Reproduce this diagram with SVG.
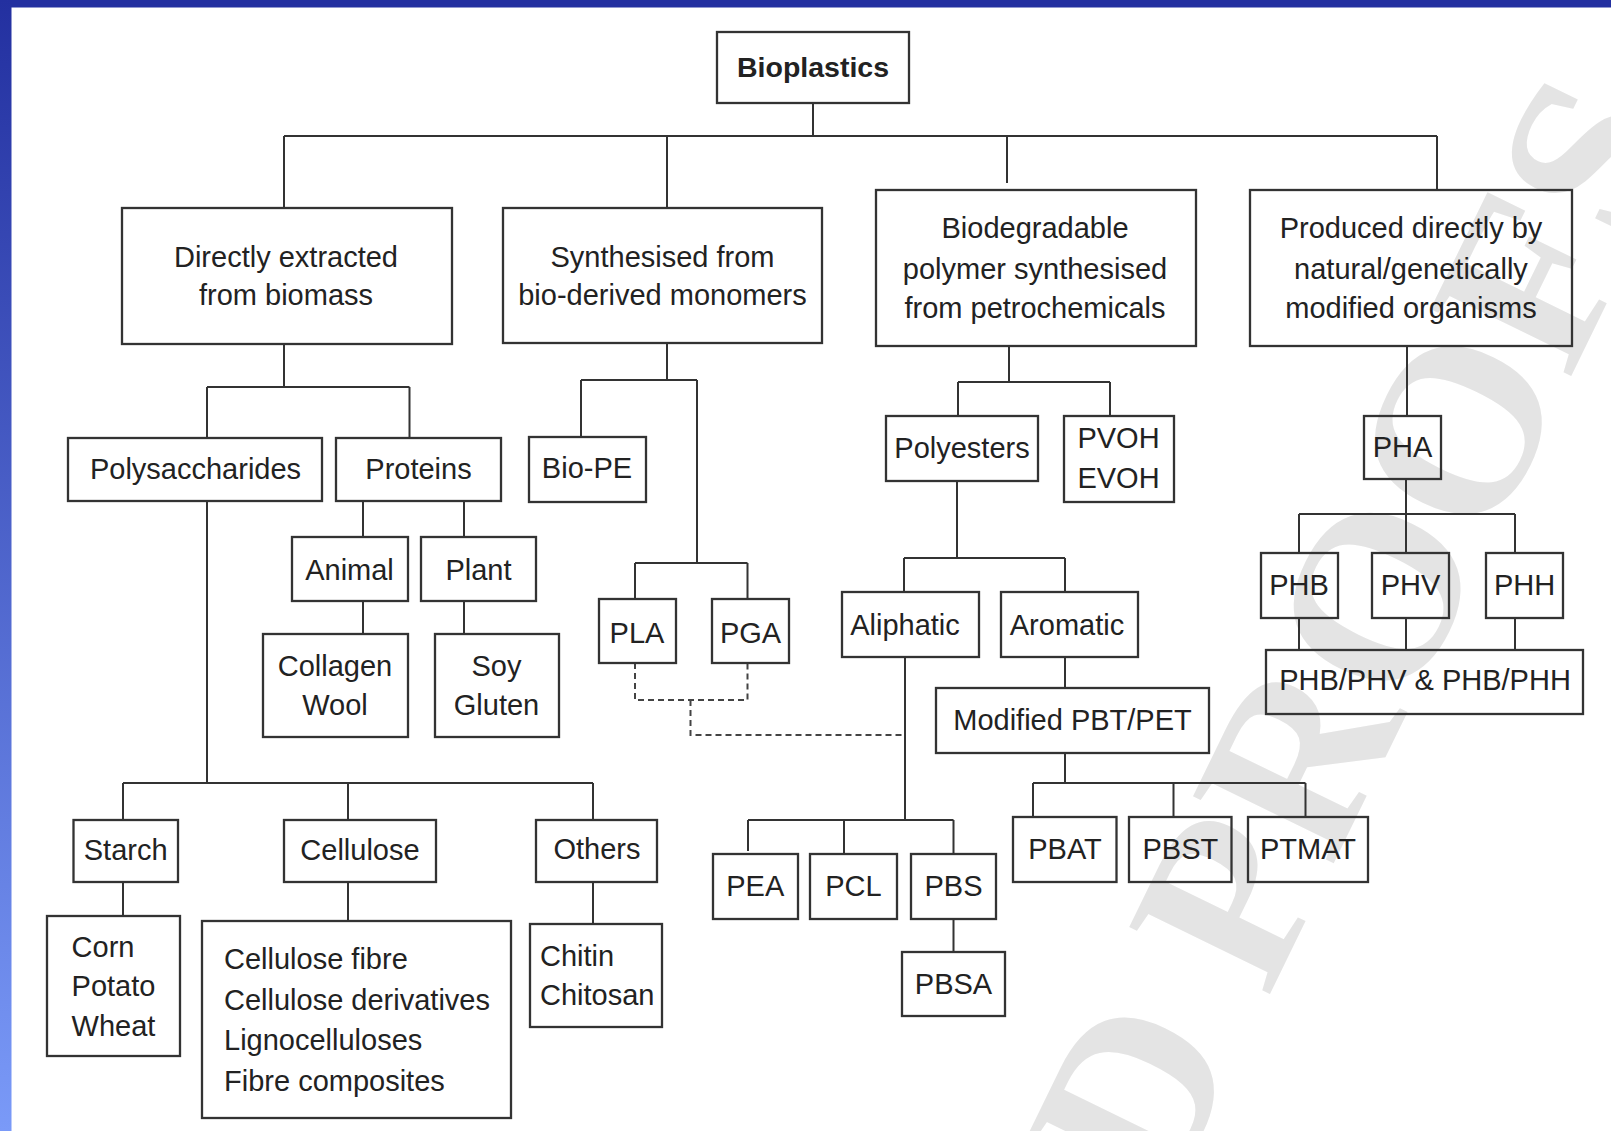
<svg xmlns="http://www.w3.org/2000/svg" width="1611" height="1131" viewBox="0 0 1611 1131">
<style>
.box{fill:none;stroke:#333;stroke-width:2.3}
.ln{fill:none;stroke:#333;stroke-width:2}
.dash{fill:none;stroke:#444;stroke-width:2;stroke-dasharray:6 4}
.t{font-family:"Liberation Sans",Arial,sans-serif;font-size:29px;fill:#222;text-anchor:middle}
.l{text-anchor:start}
.b{font-weight:bold}
.wm{font-family:"Liberation Serif","Times New Roman",serif;font-size:238px;font-weight:bold;fill:#e4e4e4}
</style>
<defs>
<linearGradient id="side" x1="0" y1="0" x2="0" y2="1">
<stop offset="0" stop-color="#2330a0"/>
<stop offset="1" stop-color="#7a9af8"/>
</linearGradient>
</defs>
<rect width="1611" height="1131" fill="#fff"/>
<text class="wm" transform="translate(1166,1207) rotate(-64)">D PROOFS</text>
<rect x="0" y="0" width="1611" height="7.5" fill="#2330a0"/>
<rect x="0" y="0" width="11.5" height="1131" fill="url(#side)"/>

<g id="connectors">
<path class="ln" d="M813,103V136M284,136H1437M284,136V208M667,136V208M1007,136V183M1437,136V190"/>
<path class="ln" d="M284,344V387M207,387H409.5M207,387V438M409.5,387V438"/>
<path class="ln" d="M667,343V380M581,380H697M581,380V437M697,380V563M635,563H747.5M635,563V599M747.5,563V599"/>
<path class="dash" d="M635,663V700H747.5V663M690.5,700V735H904"/>
<path class="ln" d="M1009,346V382M958,382H1110M958,382V416M1110,382V416"/>
<path class="ln" d="M957,481V558M904,558H1065M904,558V592M1065,558V592"/>
<path class="ln" d="M905,657V820M748,820H953.5M748,820V851M844,820V854M953.5,820V854M953.5,919V952"/>
<path class="ln" d="M1065,657V688M1065,753V783M1033,783H1305.5M1033,783V817M1173.5,783V817M1305.5,783V817"/>
<path class="ln" d="M1407,346V416M1406,479V553M1299,514H1515M1299,514V553M1515,514V553M1299,618V650M1406,618V650M1515,618V650"/>
<path class="ln" d="M207,501V783M123,783H593M123,783V820M348,783V820M593,783V820"/>
<path class="ln" d="M363,501V537M464,501V537M363,601V634M464,601V634"/>
<path class="ln" d="M123,882V916M348,882V921M593,882V924"/>
</g>

<g id="bioplastics"><rect class="box" x="717" y="32" width="192" height="71"/><text class="t b" x="813" y="77" style="font-size:28.5px">Bioplastics</text></g>
<g id="directly"><rect class="box" x="122" y="208" width="330" height="136"/><text class="t" x="286" y="267">Directly extracted</text><text class="t" x="286" y="305">from biomass</text></g>
<g id="synthesised"><rect class="box" x="503" y="208" width="319" height="135"/><text class="t" x="662.5" y="267">Synthesised from</text><text class="t" x="662.5" y="305">bio-derived monomers</text></g>
<g id="biodegradable"><rect class="box" x="876" y="190" width="320" height="156"/><text class="t" x="1035" y="238">Biodegradable</text><text class="t" x="1035" y="279">polymer synthesised</text><text class="t" x="1035" y="318">from petrochemicals</text></g>
<g id="produced"><rect class="box" x="1250" y="190" width="322" height="156"/><text class="t" x="1411" y="238">Produced directly by</text><text class="t" x="1411" y="279">natural/genetically</text><text class="t" x="1411" y="318">modified organisms</text></g>

<g id="polysaccharides"><rect class="box" x="68" y="438" width="254" height="63"/><text class="t" x="195.5" y="479">Polysaccharides</text></g>
<g id="proteins"><rect class="box" x="336" y="438" width="165" height="63"/><text class="t" x="418.5" y="479">Proteins</text></g>
<g id="bio-pe"><rect class="box" x="529" y="437" width="117" height="65"/><text class="t" x="587" y="478">Bio-PE</text></g>
<g id="polyesters"><rect class="box" x="886" y="416" width="152" height="65"/><text class="t" x="962" y="458">Polyesters</text></g>
<g id="pvoh"><rect class="box" x="1064" y="416" width="110" height="86"/><text class="t" x="1118.5" y="448">PVOH</text><text class="t" x="1118.5" y="488">EVOH</text></g>
<g id="pha"><rect class="box" x="1364" y="416" width="77" height="63"/><text class="t" x="1402.5" y="457">PHA</text></g>

<g id="animal"><rect class="box" x="292" y="537" width="116" height="64"/><text class="t" x="349.5" y="580">Animal</text></g>
<g id="plant"><rect class="box" x="421" y="537" width="115" height="64"/><text class="t" x="478.5" y="580">Plant</text></g>
<g id="pla"><rect class="box" x="599" y="599" width="77" height="64"/><text class="t" x="637" y="643">PLA</text></g>
<g id="pga"><rect class="box" x="712" y="599" width="77" height="64"/><text class="t" x="750.5" y="643">PGA</text></g>
<g id="aliphatic"><rect class="box" x="842" y="592" width="137" height="65"/><text class="t" x="905" y="635">Aliphatic</text></g>
<g id="aromatic"><rect class="box" x="1001" y="592" width="137" height="65"/><text class="t" x="1067" y="635">Aromatic</text></g>
<g id="phb"><rect class="box" x="1261" y="553" width="77" height="65"/><text class="t" x="1299" y="595">PHB</text></g>
<g id="phv"><rect class="box" x="1372" y="553" width="77" height="65"/><text class="t" x="1410.5" y="595">PHV</text></g>
<g id="phh"><rect class="box" x="1486" y="553" width="77" height="65"/><text class="t" x="1524.5" y="595">PHH</text></g>
<g id="phb-blends"><rect class="box" x="1266" y="650" width="317" height="64"/><text class="t" x="1425" y="690">PHB/PHV &amp; PHB/PHH</text></g>

<g id="collagen"><rect class="box" x="263" y="634" width="145" height="103"/><text class="t" x="335" y="676">Collagen</text><text class="t" x="335" y="715">Wool</text></g>
<g id="soy"><rect class="box" x="435" y="634" width="124" height="103"/><text class="t" x="496.5" y="676">Soy</text><text class="t" x="496.5" y="715">Gluten</text></g>
<g id="modified"><rect class="box" x="936" y="688" width="273" height="65"/><text class="t" x="1072.5" y="730">Modified PBT/PET</text></g>

<g id="starch"><rect class="box" x="73.5" y="820" width="104.5" height="62"/><text class="t" x="125.7" y="860">Starch</text></g>
<g id="cellulose"><rect class="box" x="284" y="820" width="152" height="62"/><text class="t" x="360" y="860">Cellulose</text></g>
<g id="others"><rect class="box" x="536" y="820" width="121" height="62"/><text class="t" x="597" y="859">Others</text></g>
<g id="pbat"><rect class="box" x="1013" y="817" width="103.5" height="65"/><text class="t" x="1065" y="859">PBAT</text></g>
<g id="pbst"><rect class="box" x="1129" y="817" width="102.5" height="65"/><text class="t" x="1180.4" y="859">PBST</text></g>
<g id="ptmat"><rect class="box" x="1248" y="817" width="120" height="65"/><text class="t" x="1308" y="859">PTMAT</text></g>
<g id="pea"><rect class="box" x="713" y="854" width="85" height="65"/><text class="t" x="755.3" y="896">PEA</text></g>
<g id="pcl"><rect class="box" x="810" y="854" width="87" height="65"/><text class="t" x="853.5" y="896">PCL</text></g>
<g id="pbs"><rect class="box" x="911" y="854" width="85" height="65"/><text class="t" x="953.5" y="896">PBS</text></g>
<g id="pbsa"><rect class="box" x="902" y="952" width="103" height="64"/><text class="t" x="953.5" y="994">PBSA</text></g>

<g id="corn"><rect class="box" x="47" y="916" width="133" height="140"/><text class="t l" x="71.6" y="957">Corn</text><text class="t l" x="71.6" y="996">Potato</text><text class="t l" x="71.6" y="1036">Wheat</text></g>
<g id="cellulose-types"><rect class="box" x="202" y="921" width="309" height="197"/><text class="t l" x="224" y="969">Cellulose fibre</text><text class="t l" x="224" y="1010">Cellulose derivatives</text><text class="t l" x="224" y="1050">Lignocelluloses</text><text class="t l" x="224" y="1091">Fibre composites</text></g>
<g id="chitin"><rect class="box" x="530" y="924" width="132" height="103"/><text class="t l" x="540" y="966">Chitin</text><text class="t l" x="540" y="1005">Chitosan</text></g>
</svg>
